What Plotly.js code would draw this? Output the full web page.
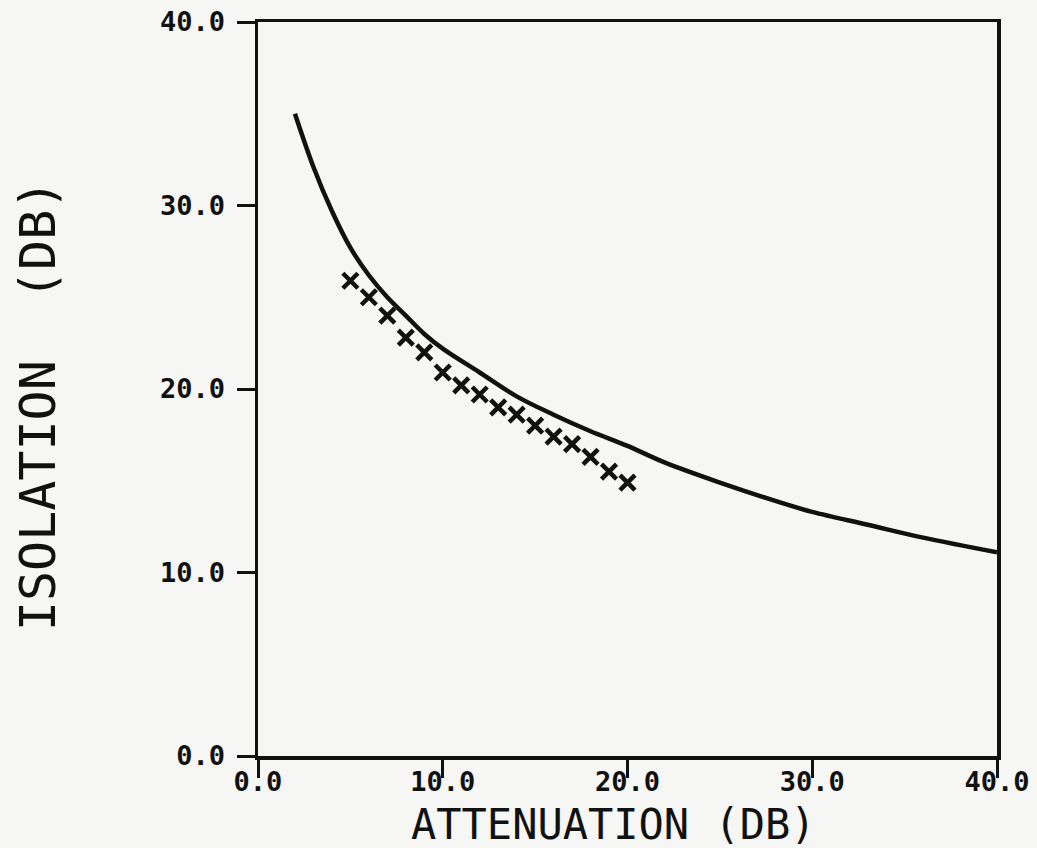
<!DOCTYPE html>
<html>
<head>
<meta charset="utf-8">
<script src="https://cdn.plot.ly/plotly-3.0.1.min.js"></script>
<style>html,body{margin:0;padding:0;background:#f6f6f4;}</style>
</head>
<body>
<div id="chart" style="width:1037px;height:848px;"></div>
<script>
// Theoretical curve (solid line)
const curveX = [2, 3, 4, 5, 6, 7, 8, 9, 10, 12, 14, 16, 18, 20, 22, 25, 28, 30, 33, 36, 40];
const curveY = [35.0, 32.1, 29.7, 27.7, 26.2, 25.0, 24.0, 23.0, 22.2, 20.9, 19.6, 18.6, 17.7, 16.9, 16.0, 14.9, 13.9, 13.3, 12.6, 11.9, 11.1];

// Measured points (X markers)
const measX = [5, 6, 7, 8, 9, 10, 11, 12, 13, 14, 15, 16, 17, 18, 19, 20];
const measY = [25.9, 25.0, 24.0, 22.8, 22.0, 20.9, 20.2, 19.7, 19.0, 18.6, 18.0, 17.4, 17.0, 16.3, 15.5, 14.9];

const tickVals = [0, 10, 20, 30, 40];
const tickText = ['0.0', '10.0', '20.0', '30.0', '40.0'];

const xTitle = 'ATTENUATION (DB)';
const yTitle = 'ISOLATION  (DB)';

const ink = '#111111';

const traces = [
  {
    x: curveX, y: curveY, mode: 'lines', type: 'scatter',
    line: {color: ink, width: 4.5, shape: 'spline', smoothing: 1.0},
    hoverinfo: 'skip', showlegend: false
  },
  {
    x: measX, y: measY, mode: 'markers', type: 'scatter',
    marker: {symbol: 'x-thin', size: 15, color: ink, line: {color: ink, width: 4.5}},
    showlegend: false
  }
];

const tickFont = {family: 'DejaVu Sans Mono', size: 27, color: ink, weight: 'bold'};

const layout = {
  width: 1037, height: 848,
  paper_bgcolor: '#f6f6f4', plot_bgcolor: '#f6f6f4',
  margin: {l: 258, r: 40, t: 22, b: 92},
  showlegend: false,
  xaxis: {
    range: [0, 40], tickvals: tickVals, ticktext: tickText,
    showgrid: false, zeroline: false,
    showline: true, mirror: true, linecolor: ink, linewidth: 3.5,
    ticks: 'outside', ticklen: 18, tickwidth: 3, tickcolor: ink,
    ticklabelstandoff: -19,
    tickfont: tickFont
  },
  yaxis: {
    range: [0, 40], tickvals: tickVals, ticktext: tickText,
    showgrid: false, zeroline: false,
    showline: true, mirror: true, linecolor: ink, linewidth: 3.5,
    ticks: 'outside', ticklen: 18, tickwidth: 3, tickcolor: ink,
    ticklabelstandoff: 6,
    tickfont: tickFont
  },
  annotations: [
    {
      text: xTitle, xref: 'paper', yref: 'paper',
      x: 0.4804, y: -0.0935, xanchor: 'center', yanchor: 'middle',
      showarrow: false,
      font: {family: 'DejaVu Sans Mono', size: 42, color: ink}
    },
    {
      text: yTitle, xref: 'paper', yref: 'paper',
      x: -0.2977, y: 0.478, xanchor: 'center', yanchor: 'middle',
      textangle: -90, showarrow: false,
      font: {family: 'DejaVu Sans Mono', size: 50, color: ink}
    }
  ]
};

Plotly.newPlot('chart', traces, layout, {displayModeBar: false, staticPlot: true});
</script>
</body>
</html>
